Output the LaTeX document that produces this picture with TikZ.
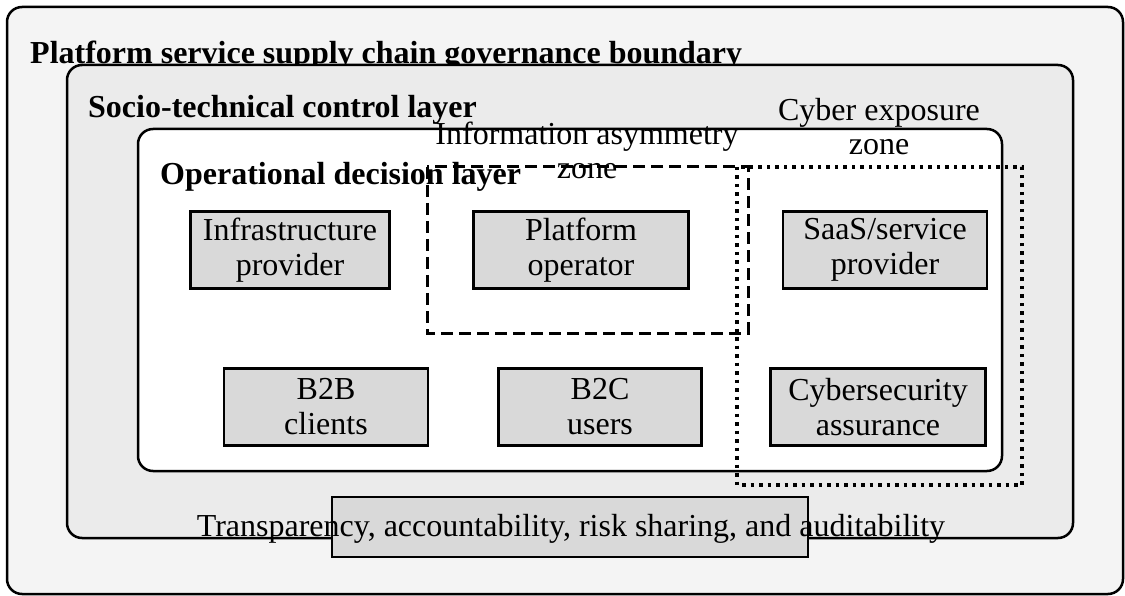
\documentclass[tikz,border=0pt]{standalone}
\usepackage{fontspec}
\setmainfont{Liberation Serif}
\definecolor{BoundaryFill}{HTML}{F4F4F4}
\definecolor{LayerFill}{HTML}{EBEBEB}
\definecolor{ActorFill}{HTML}{D9D9D9}

\begin{document}
\begin{tikzpicture}[x=1pt, y=-1pt,
    layer/.style={draw, line width=2.5pt, rounded corners=15pt},
    actor/.style={draw, line width=2.5pt, fill=ActorFill, minimum height=77pt, inner sep=0pt, align=center, font=\fontsize{32}{35}\selectfont},
    layerlabel/.style={anchor=base west, inner sep=0pt, font=\fontsize{32}{35}\selectfont\bfseries},
    zonelabel/.style={inner sep=0pt, align=center, font=\fontsize{32}{34}\selectfont},
    infozone/.style={draw, line width=3pt, dash pattern=on 12pt off 6pt},
    cyberzone/.style={draw, line width=3.5pt, dash pattern=on 3.5pt off 5pt}]

    \useasboundingbox (0,0) rectangle (1125,596);

    % nested governance layers
    \draw [layer, fill=BoundaryFill] (7,7) rectangle (1123,594);
    \node [layerlabel] (boundary) at (30,64) {Platform service supply chain governance boundary};

    \draw [layer, fill=LayerFill] (67,65) rectangle (1073,538);
    \node [layerlabel] (control) at (88,118) {Socio-technical control layer};

    \draw [layer, fill=white] (138,129) rectangle (1002,471);
    \node [layerlabel] (decision) at (160,185) {Operational decision layer};

    % zones
    \node [zonelabel] (infolabel) at (587,150) {Information asymmetry\\zone};
    \node [zonelabel] (cyberlabel) at (879,127) {Cyber exposure\\zone};
    \draw [infozone] (427,167) rectangle (748,333);
    \draw [cyberzone] (737,167) rectangle (1022,485);

    % actors
    \node [actor, minimum width=199pt] (infra) at (290,250) {Infrastructure\\provider};
    \node [actor, minimum width=215pt] (operator) at (581,250) {Platform\\operator};
    \node [actor, minimum width=204pt] (saas) at (885,250) {SaaS/service\\provider};
    \node [actor, minimum width=204pt] (btob) at (326,407) {B2B\\clients};
    \node [actor, minimum width=203pt] (btoc) at (600,407) {B2C\\users};
    \node [actor, minimum width=215pt] (assurance) at (878,407) {Cybersecurity\\assurance};

    % governance mechanisms
    \node [actor, minimum width=476pt, minimum height=60pt] (mechanisms) at (570,527) {};
    \node [anchor=base, inner sep=0pt, font=\fontsize{32}{35}\selectfont] (mechtext) at (571,536) {Transparency, accountability, risk sharing, and auditability};

\end{tikzpicture}
\end{document}
